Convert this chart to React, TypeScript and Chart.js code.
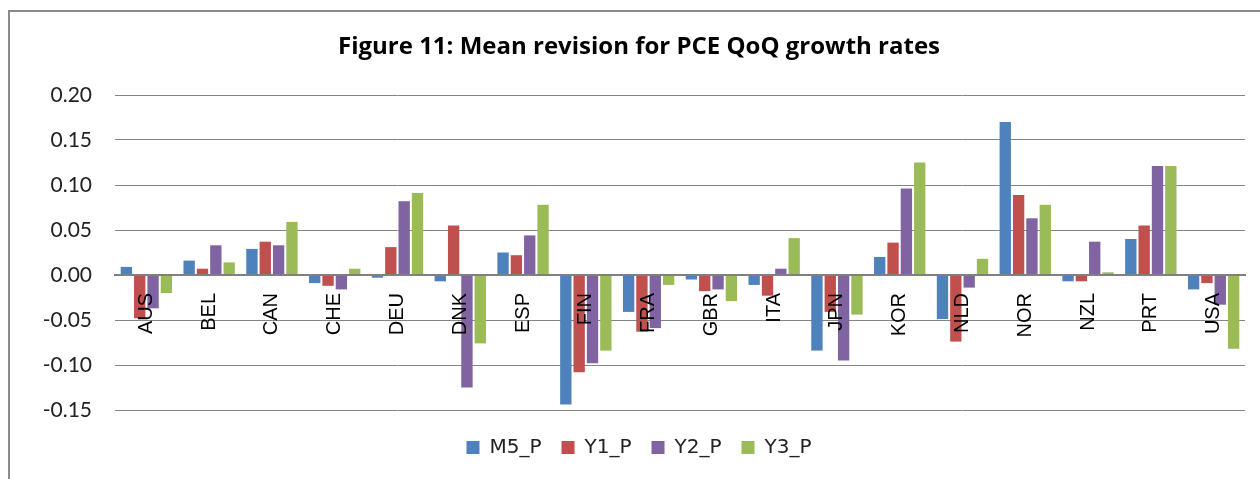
import React, { useEffect, useRef } from "react";
import { Chart, registerables } from "chart.js";

Chart.register(...registerables);

const categories = ["AUS", "BEL", "CAN", "CHE", "DEU", "DNK", "ESP", "FIN", "FRA", "GBR", "ITA", "JPN", "KOR", "NLD", "NOR", "NZL", "PRT", "USA"];
const seriesNames = ["M5_P", "Y1_P", "Y2_P", "Y3_P"];
const m5P = [0.009, 0.016, 0.029, -0.009, -0.003, -0.007, 0.025, -0.144, -0.041, -0.005, -0.011, -0.084, 0.020, -0.049, 0.170, -0.007, 0.040, -0.016];
const y1P = [-0.048, 0.007, 0.037, -0.012, 0.031, 0.055, 0.022, -0.108, -0.063, -0.018, -0.023, -0.041, 0.036, -0.074, 0.089, -0.007, 0.055, -0.009];
const y2P = [-0.037, 0.033, 0.033, -0.016, 0.082, -0.125, 0.044, -0.098, -0.059, -0.016, 0.007, -0.095, 0.096, -0.014, 0.063, 0.037, 0.121, -0.033];
const y3P = [-0.020, 0.014, 0.059, 0.007, 0.091, -0.076, 0.078, -0.084, -0.011, -0.029, 0.041, -0.044, 0.125, 0.018, 0.078, 0.003, 0.121, -0.082];
const colors = ["#4F81BD", "#C0504D", "#8064A2", "#9BBB59"];
const yMin = -0.15;
const yMax = 0.2;
const yStep = 0.05;
const titleText = "Figure 11: Mean revision for PCE QoQ growth rates";

export default function App() {
  const ref = useRef<HTMLCanvasElement | null>(null);

  useEffect(() => {
    if (!ref.current) return;
    const values = [m5P, y1P, y2P, y3P];
    const chart = new Chart(ref.current, {
      type: "bar",
      data: {
        labels: categories,
        datasets: seriesNames.map((name, i) => ({
          label: name,
          data: values[i],
          backgroundColor: colors[i],
          borderWidth: 0,
          categoryPercentage: 0.85,
          barPercentage: 0.85,
        })),
      },
      options: {
        responsive: false,
        animation: false,
        layout: { padding: { top: 0, left: 23, right: 15, bottom: 11.5 } },
        plugins: {
          tooltip: { enabled: false },
          title: {
            display: true,
            text: titleText,
            color: "#000",
            font: { family: "Open Sans", size: 24, weight: "bold" },
            padding: { top: 21, bottom: 33.2 },
          },
          legend: {
            display: true,
            position: "bottom",
            title: { display: true, text: "", font: { size: 5 }, padding: { top: 0, bottom: 1.5 } },
            labels: {
              boxWidth: 13,
              boxHeight: 13,
              padding: 20,
              color: "#222",
              font: { family: "DejaVu Sans", size: 20 },
            },
          },
        },
        scales: {
          x: {
            position: { y: 0 } as any,
            grid: { display: true, color: "rgba(0,0,0,0)", drawTicks: false, drawOnChartArea: false },
            border: { display: true, color: "#808080", width: 2, z: 1 },
            ticks: {
              z: 1,
              autoSkip: false,
              minRotation: 90,
              maxRotation: 90,
              padding: 18,
              color: "#000",
              font: { family: "Liberation Sans", size: 20 },
            },
          },
          y: {
            min: yMin,
            max: yMax,
            afterFit: (scale: any) => {
              scale.width = 82;
            },
            grid: { color: "#858585", lineWidth: 1, drawTicks: false },
            border: { display: false },
            ticks: {
              stepSize: yStep,
              padding: 23,
              color: "#222",
              font: { family: "Lato", size: 21 },
              callback: (v: any) => Number(v).toFixed(2),
            },
          },
        },
      },
    });
    return () => chart.destroy();
  }, []);

  return (
    <div
      style={{
        position: "fixed",
        left: 8,
        top: 10,
        right: 0,
        bottom: 0,
        borderTop: "2px solid #8a8a8a",
        borderLeft: "2px solid #8a8a8a",
        background: "#fff",
      }}
    >
      <canvas ref={ref} width={1250} height={467} style={{ display: "block" }} />
    </div>
  );
}
